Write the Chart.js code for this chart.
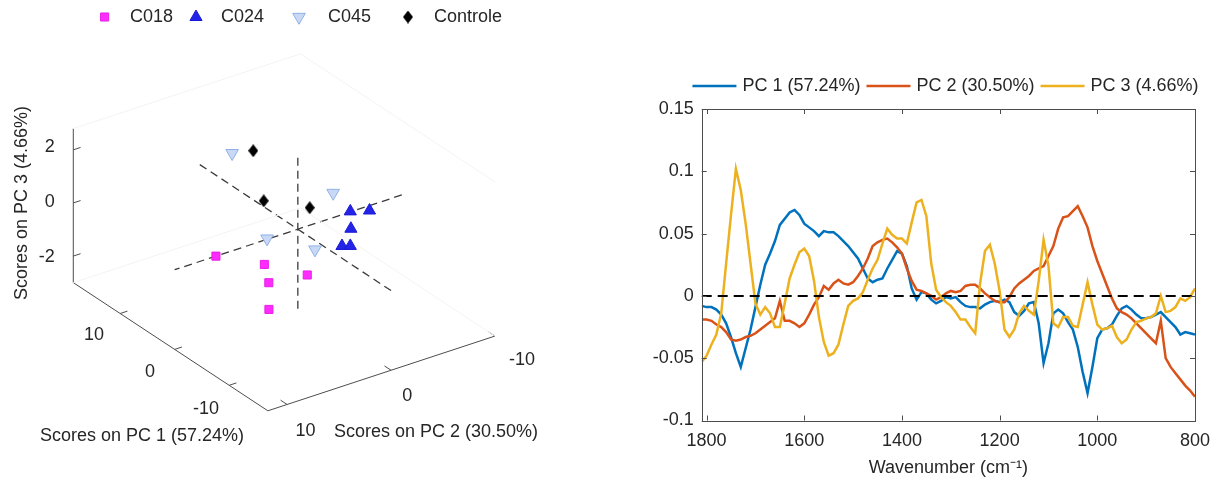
<!DOCTYPE html>
<html>
<head>
<meta charset="utf-8">
<script src="https://cdn.jsdelivr.net/npm/chart.js@4.4.1/dist/chart.umd.min.js"></script>
<style>
html, body { margin: 0; padding: 0; background: #fff; }
#wrap { position: relative; width: 1228px; height: 486px; overflow: hidden; }
#scores { position: absolute; left: 0; top: 0; }
#loadings { position: absolute; left: 620px; top: 0; }
</style>
</head>
<body>
<div id="wrap">
  <canvas id="scores" width="620" height="486"></canvas>
  <canvas id="loadings" width="600" height="486"></canvas>
</div>
<script>
// ---------- datos: scores (PC1, PC2, PC3) de cada muestra ----------
const scoresC018 = [[7.4, 4.0, -1.5], [2.9, 1.7, -1.5], [1.7, 1.9, -2.0], [-0.8, 3.2, -2.5], [-0.2, -0.8, -1.8]];
const scoresC024 = [[0.1, -5.1, 0.0], [-1.9, -5.9, 0.2], [-0.2, -5.0, -0.6], [0.1, -4.3, -1.2], [0.1, -5.1, -1.3]];
const scoresC045 = [[13.2, -0.6, 1.0], [2.6, 1.6, -0.5], [2.1, -4.5, 0.5], [0.1, -1.7, -1.0]];
const scoresControle = [[9.9, -0.9, 1.5], [3.4, 1.5, 0.8], [0.3, -1.3, 0.6]];

const pc1Ticks = [-10, 0, 10];
const pc2Ticks = [-10, 0, 10];
const pc3Ticks = [-2, 0, 2];

// ---------- datos: loadings ----------
const wavenumbers = [
  1810, 1800, 1790, 1780, 1770, 1760, 1750, 1740, 1730, 1720,
  1710, 1700, 1690, 1680, 1670, 1660, 1650, 1640, 1630, 1620,
  1610, 1600, 1590, 1580, 1570, 1560, 1550, 1540, 1530, 1520,
  1510, 1500, 1490, 1480, 1470, 1460, 1450, 1440, 1430, 1420,
  1410, 1400, 1390, 1380, 1370, 1360, 1350, 1340, 1330, 1320,
  1310, 1300, 1290, 1280, 1270, 1260, 1250, 1240, 1230, 1220,
  1210, 1200, 1190, 1180, 1170, 1160, 1150, 1140, 1130, 1120,
  1110, 1100, 1090, 1080, 1070, 1060, 1050, 1040, 1030, 1020,
  1010, 1000, 990, 980, 970, 960, 950, 940, 930, 920,
  910, 900, 890, 880, 870, 860, 850, 840, 830, 820,
  810, 800
];
const pc1Loadings = [
  -0.008, -0.009, -0.009, -0.011, -0.015, -0.022, -0.033, -0.046, -0.057, -0.042,
  -0.027, -0.009, 0.009, 0.025, 0.034, 0.044, 0.057, 0.062, 0.067, 0.069,
  0.065, 0.058, 0.055, 0.052, 0.048, 0.052, 0.051, 0.051, 0.048, 0.044,
  0.040, 0.035, 0.030, 0.022, 0.014, 0.011, 0.013, 0.014, 0.022, 0.029,
  0.036, 0.034, 0.024, 0.006, -0.003, 0.003, 0.002, -0.003, -0.006, -0.004,
  -0.001, -0.002, -0.001, -0.005, -0.008, -0.009, -0.009, -0.010, -0.007, -0.005,
  -0.004, -0.005, -0.003, -0.005, -0.013, -0.016, -0.012, -0.006, -0.005, -0.022,
  -0.054, -0.038, -0.014, -0.011, -0.014, -0.021, -0.027, -0.041, -0.061, -0.078,
  -0.057, -0.034, -0.027, -0.026, -0.023, -0.016, -0.010, -0.008, -0.011, -0.015,
  -0.018, -0.018, -0.017, -0.015, -0.013, -0.017, -0.021, -0.025, -0.031, -0.029,
  -0.030, -0.031
];
const pc2Loadings = [
  -0.019, -0.019, -0.020, -0.023, -0.025, -0.029, -0.035, -0.036, -0.035, -0.033,
  -0.032, -0.030, -0.027, -0.024, -0.021, -0.018, -0.004, -0.020, -0.020, -0.022,
  -0.025, -0.022, -0.015, -0.007, -0.001, 0.008, 0.005, 0.010, 0.013, 0.010,
  0.009, 0.011, 0.016, 0.022, 0.030, 0.040, 0.043, 0.045, 0.046, 0.043,
  0.039, 0.034, 0.022, 0.012, 0.005, 0.004, 0.002, 0.000, -0.003, -0.001,
  0.002, 0.004, 0.003, 0.004, 0.008, 0.009, 0.009, 0.006, 0.002, -0.001,
  -0.004, -0.005, -0.005, -0.001, 0.006, 0.010, 0.013, 0.016, 0.020, 0.022,
  0.024, 0.032, 0.040, 0.054, 0.063, 0.064, 0.068, 0.072, 0.064, 0.055,
  0.040, 0.028, 0.018, 0.008, -0.002, -0.010, -0.013, -0.015, -0.018, -0.022,
  -0.026, -0.030, -0.034, -0.038, -0.020, -0.050, -0.057, -0.062, -0.067, -0.072,
  -0.076, -0.081
];
const pc3Loadings = [
  -0.053, -0.048, -0.039, -0.031, -0.014, 0.026, 0.065, 0.102, 0.085, 0.058,
  0.026, -0.006, -0.015, -0.009, -0.014, -0.025, -0.025, -0.006, 0.014, 0.025,
  0.035, 0.038, 0.032, 0.012, -0.017, -0.037, -0.048, -0.046, -0.039, -0.023,
  -0.008, -0.004, -0.002, 0.003, 0.013, 0.022, 0.029, 0.042, 0.054, 0.049,
  0.046, 0.046, 0.042, 0.059, 0.075, 0.077, 0.064, 0.026, 0.005, -0.001,
  -0.005, -0.008, -0.013, -0.019, -0.019, -0.025, -0.030, 0.010, 0.036, 0.041,
  0.026, 0.004, -0.027, -0.033, -0.027, -0.014, -0.008, -0.012, -0.015, 0.012,
  0.045, 0.024, -0.022, -0.025, -0.017, -0.017, -0.024, -0.025, -0.007, 0.011,
  -0.007, -0.023, -0.027, -0.026, -0.024, -0.033, -0.038, -0.035, -0.027, -0.021,
  -0.020, -0.018, -0.017, -0.014, 0.000, -0.013, -0.012, -0.009, -0.002, -0.004,
  -0.001, 0.006
];
const zeroLineX = [1810, 800];
const zeroLineY = [0, 0];

const xTickValues = [1800, 1600, 1400, 1200, 1000, 800];
const yTickValues = [-0.1, -0.05, 0, 0.05, 0.1, 0.15];

// ---------- estilo general ----------
const FONT = '"Liberation Sans", Arial, Helvetica, sans-serif';
const textColor = '#262626';
const axisColor = '#4d4d4d';
Chart.defaults.font.family = FONT;
Chart.defaults.font.size = 18;
Chart.defaults.color = textColor;

// ---------- proyeccion 3D (vista tipo MATLAB) a pixeles del canvas izquierdo ----------
const pcLimits = { pc1: [-17.1, 18.6], pc2: [-10, 11.85], pc3: [-3, 2.8] };
const view = { ox: 297.5, oy: 228.7, e1: [-5.6, -3.717], e2: [-10.68, 3.542], e3: [0, -27.5] };

function project(p1, p2, p3) {
  return {
    x: view.ox + p1 * view.e1[0] + p2 * view.e2[0] + p3 * view.e3[0],
    y: view.oy + p1 * view.e1[1] + p2 * view.e2[1] + p3 * view.e3[1]
  };
}

function segment(a, b, color, width, dash) {
  return {
    data: [project(...a), project(...b)],
    showLine: true,
    borderColor: color,
    borderWidth: width,
    borderDash: dash || [],
    pointRadius: 0
  };
}

function diamondImage(w, h, fill) {
  const c = document.createElement('canvas');
  c.width = w; c.height = h;
  const g = c.getContext('2d');
  g.fillStyle = fill;
  g.beginPath();
  g.moveTo(w / 2, 0); g.lineTo(w, h / 2); g.lineTo(w / 2, h); g.lineTo(0, h / 2);
  g.closePath();
  g.fill();
  return c;
}

const [x0, x1] = pcLimits.pc1, [y0, y1] = pcLimits.pc2, [z0, z1] = pcLimits.pc3;
const lineSets = [];

// aristas traseras muy tenues
const faint = '#f3f3f3';
lineSets.push(segment([x1, y1, z0], [x1, y0, z0], faint, 1));
lineSets.push(segment([x0, y0, z0], [x1, y0, z0], faint, 1));
lineSets.push(segment([x1, y1, z1], [x1, y0, z1], faint, 1));
lineSets.push(segment([x1, y0, z1], [x0, y0, z1], faint, 1));

// ejes
lineSets.push(segment([x1, y1, z0], [x1, y1, z1], axisColor, 1));
lineSets.push(segment([x1, y1, z0], [x0, y1, z0], axisColor, 1));
lineSets.push(segment([x0, y1, z0], [x0, y0, z0], axisColor, 1));

// marcas de los ejes
pc1Ticks.forEach(t => lineSets.push(segment([t, y1, z0], [t, y1 - 0.7, z0], axisColor, 1)));
pc2Ticks.forEach(t => lineSets.push(segment([x0, t, z0], [x0 + 1.2, t, z0], axisColor, 1)));
pc3Ticks.forEach(t => lineSets.push(segment([x1, y1, t], [x1, y1 - 0.7, t], axisColor, 1)));

// lineas discontinuas por el origen
const dashColor = '#3a3a3a';
lineSets.push(segment([x0, 0, 0], [x1, 0, 0], dashColor, 1.3, [8, 5]));
lineSets.push(segment([0, y0, 0], [0, y1, 0], dashColor, 1.3, [8, 5]));
lineSets.push(segment([0, 0, z0], [0, 0, z1], dashColor, 1.3, [8, 5]));

// grupos
const groupSets = [
  { label: 'C018', data: scoresC018.map(s => project(...s)),
    pointStyle: 'rect', pointRadius: 5.7, pointBackgroundColor: '#ff2bff', pointBorderColor: '#e81ee8', pointBorderWidth: 1 },
  { label: 'C024', data: scoresC024.map(s => project(...s)),
    pointStyle: 'triangle', pointRadius: 7, pointBackgroundColor: '#2424e8', pointBorderColor: '#1a1ad4', pointBorderWidth: 1 },
  { label: 'C045', data: scoresC045.map(s => project(...s)),
    pointStyle: 'triangle', pointRotation: 180, pointRadius: 7.3, pointBackgroundColor: '#c9d9f5', pointBorderColor: '#8fb0e6', pointBorderWidth: 1 },
  { label: 'Controle', data: scoresControle.map(s => project(...s)),
    pointStyle: diamondImage(10, 13, '#000'), pointRadius: 6, pointBackgroundColor: '#000', pointBorderColor: '#000', pointBorderWidth: 0 }
].map(d => Object.assign(d, { isGroup: true, showLine: false }));

const legendSlots = [[104.6, 130], [196, 221], [299, 328], [408, 434]];

const scoresDecor = {
  id: 'scoresDecor',
  afterDraw(chart) {
    const ctx = chart.ctx;
    ctx.save();
    ctx.fillStyle = textColor;
    ctx.font = '18px ' + FONT;
    ctx.textBaseline = 'middle';

    ctx.textAlign = 'right';
    pc3Ticks.forEach(t => { const p = project(x1, y1, t); ctx.fillText(String(t), p.x - 12, p.y); });
    ctx.textAlign = 'center';
    pc1Ticks.forEach(t => { const p = project(t, y1, z0); ctx.fillText(String(t), p.x - 21, p.y + 19); });
    ctx.textAlign = 'left';
    pc2Ticks.forEach(t => { const p = project(x0, t, z0); ctx.fillText(String(t), p.x + 9, p.y + 21); });

    ctx.textAlign = 'center';
    ctx.fillText('Scores on PC 1 (57.24%)', 142, 436);
    ctx.fillText('Scores on PC 2 (30.50%)', 436, 432);
    ctx.save();
    ctx.translate(22, 203);
    ctx.rotate(-Math.PI / 2);
    ctx.fillText('Scores on PC 3 (4.66%)', 0, 0);
    ctx.restore();

    // leyenda
    const groups = chart.data.datasets.filter(d => d.isGroup);
    groups.forEach((d, i) => {
      const [mx, tx] = legendSlots[i];
      ctx.save();
      ctx.fillStyle = d.pointBackgroundColor;
      ctx.strokeStyle = d.pointBorderColor;
      ctx.lineWidth = d.pointBorderWidth;
      Chart.helpers.drawPoint(ctx, {
        pointStyle: d.pointStyle, rotation: d.pointRotation || 0,
        radius: d.pointRadius, borderWidth: d.pointBorderWidth
      }, mx, 17);
      ctx.restore();
      ctx.textAlign = 'left';
      ctx.fillText(d.label, tx, 17);
    });
    ctx.restore();
  }
};

new Chart(document.getElementById('scores'), {
  type: 'scatter',
  data: { datasets: [...groupSets, ...lineSets] },
  options: {
    responsive: false,
    animation: false,
    events: [],
    layout: { padding: 0 },
    plugins: { legend: { display: false }, tooltip: { enabled: false } },
    scales: {
      x: { type: 'linear', display: false, min: 0, max: 620 },
      y: { type: 'linear', display: false, min: 0, max: 486, reverse: true }
    }
  },
  plugins: [scoresDecor]
});

// ---------- grafico de loadings ----------
function toXY(xs, ys) { return xs.map((x, i) => ({ x: x, y: ys[i] })); }

const loadingsDecor = {
  id: 'loadingsDecor',
  afterDraw(chart) {
    const { ctx, chartArea: a, scales: { x, y } } = chart;
    ctx.save();
    ctx.strokeStyle = axisColor;
    ctx.lineWidth = 1;
    ctx.strokeRect(Math.round(a.left) + 0.5, Math.round(a.top) + 0.5,
      Math.round(a.right) - Math.round(a.left), Math.round(a.bottom) - Math.round(a.top));
    ctx.beginPath();
    xTickValues.forEach(v => {
      const px = Math.round(x.getPixelForValue(v)) + 0.5;
      ctx.moveTo(px, a.bottom); ctx.lineTo(px, a.bottom - 5);
      ctx.moveTo(px, a.top); ctx.lineTo(px, a.top + 5);
    });
    yTickValues.forEach(v => {
      const py = Math.round(y.getPixelForValue(v)) + 0.5;
      ctx.moveTo(a.left, py); ctx.lineTo(a.left + 5, py);
      ctx.moveTo(a.right, py); ctx.lineTo(a.right - 5, py);
    });
    ctx.stroke();

    // leyenda
    ctx.font = '18px ' + FONT;
    ctx.textBaseline = 'middle';
    ctx.textAlign = 'left';
    const items = chart.data.datasets.filter(d => d.inLegend);
    const sample = 44, gap = 6;
    const widths = items.map(d => sample + gap + ctx.measureText(d.label).width);
    const total = widths.reduce((s, w) => s + w, 0) + gap * (items.length - 1);
    let cx = 325.5 - total / 2;
    const ly = 86;
    items.forEach((d, i) => {
      ctx.strokeStyle = d.borderColor;
      ctx.lineWidth = 2.5;
      ctx.beginPath(); ctx.moveTo(cx, ly); ctx.lineTo(cx + sample, ly); ctx.stroke();
      ctx.fillStyle = textColor;
      ctx.fillText(d.label, cx + sample + gap, ly);
      cx += widths[i] + gap;
    });
    ctx.restore();
  }
};

new Chart(document.getElementById('loadings'), {
  type: 'line',
  data: {
    datasets: [
      { label: 'PC 1 (57.24%)', data: toXY(wavenumbers, pc1Loadings), borderColor: '#0072bd', order: 3, inLegend: true },
      { label: 'PC 2 (30.50%)', data: toXY(wavenumbers, pc2Loadings), borderColor: '#d95319', order: 2, inLegend: true },
      { label: 'PC 3 (4.66%)', data: toXY(wavenumbers, pc3Loadings), borderColor: '#edb120', order: 1, inLegend: true },
      { label: 'cero', data: toXY(zeroLineX, zeroLineY), borderColor: '#000', borderWidth: 2, borderDash: [10, 6], order: 0 }
    ]
  },
  options: {
    responsive: false,
    animation: false,
    events: [],
    elements: { point: { radius: 0 }, line: { borderWidth: 2.5, tension: 0 } },
    layout: { padding: { top: 109, right: 21, bottom: 0, left: 0 } },
    plugins: { legend: { display: false }, tooltip: { enabled: false } },
    scales: {
      x: {
        type: 'linear', reverse: true, min: 800, max: 1810,
        afterBuildTicks: s => { s.ticks = xTickValues.map(v => ({ value: v })); },
        afterFit: s => { s.height = 65.5; },
        grid: { display: false, drawTicks: false },
        border: { display: false },
        ticks: { padding: 10, maxRotation: 0, autoSkip: false, callback: v => String(v) },
        title: { display: true, text: 'Wavenumber (cm\u207B\u00B9)', padding: { top: 0, bottom: 7 } }
      },
      y: {
        type: 'linear', min: -0.1, max: 0.15,
        afterBuildTicks: s => { s.ticks = yTickValues.map(v => ({ value: v })); },
        afterFit: s => { s.width = 81.7; },
        grid: { display: false, drawTicks: false },
        border: { display: false },
        ticks: { padding: 8, callback: v => String(v) }
      }
    }
  },
  plugins: [loadingsDecor]
});
</script>
</body>
</html>
